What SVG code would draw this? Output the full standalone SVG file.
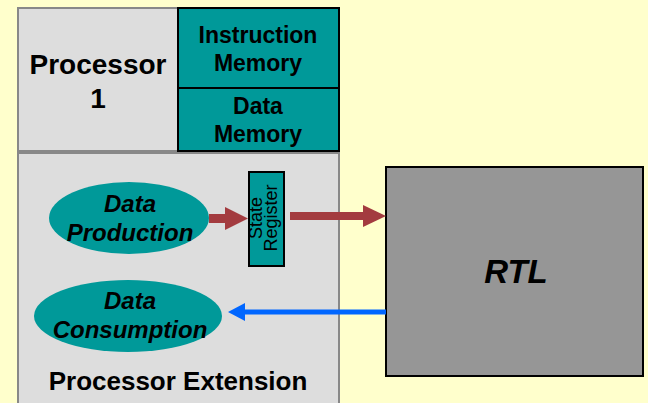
<svg xmlns="http://www.w3.org/2000/svg" width="648" height="403" viewBox="0 0 648 403">
<style>
.bg{fill:#FFFFCC}
.gray{fill:#DDDDDD;stroke:#888888;stroke-width:2}
.teal{fill:#009999;stroke:#000000;stroke-width:2}
.t{font-family:"Liberation Sans",Arial,sans-serif;font-weight:bold;fill:#000;text-anchor:middle}
.ti{font-style:italic}
.sr{font-family:"Liberation Sans",Arial,sans-serif;font-size:18px;fill:#000;text-anchor:middle}
.red{fill:#A33B3F}
</style>
<rect class="bg" x="0" y="0" width="648" height="403"/>
<g id="processor">
<rect class="gray" x="18" y="8" width="160" height="143"/>
<text class="t" x="98" y="74" font-size="28">Processor</text>
<text class="t" x="98" y="108" font-size="28">1</text>
</g>
<g id="instruction-memory">
<rect class="teal" x="178" y="8" width="161" height="80"/>
<text class="t" x="258" y="43" font-size="23">Instruction</text>
<text class="t" x="258" y="71" font-size="23">Memory</text>
</g>
<g id="data-memory">
<rect class="teal" x="178" y="88" width="161" height="63"/>
<text class="t" x="258" y="114" font-size="23">Data</text>
<text class="t" x="258" y="142" font-size="23">Memory</text>
</g>
<g id="processor-extension">
<rect class="gray" x="18" y="153" width="321" height="260"/>
<text class="t" x="178" y="390" font-size="26">Processor Extension</text>
</g>
<g id="data-production">
<ellipse cx="129" cy="218" rx="80" ry="36" fill="#009999"/>
<text class="t ti" x="130" y="212" font-size="24">Data</text>
<text class="t ti" x="130" y="241" font-size="24">Production</text>
</g>
<g id="data-consumption">
<ellipse cx="128" cy="316" rx="94" ry="36" fill="#009999"/>
<text class="t ti" x="130" y="309" font-size="24">Data</text>
<text class="t ti" x="130" y="338" font-size="24">Consumption</text>
</g>
<g id="rtl">
<rect x="386" y="167" width="257" height="209" fill="#969696" stroke="#000" stroke-width="2"/>
<text class="t ti" x="516" y="283" font-size="33">RTL</text>
</g>
<g id="connectors">
<rect class="red" x="209" y="214" width="18" height="9"/>
<polygon class="red" points="225,207 248,218.5 225,230"/>
<rect class="red" x="290" y="212" width="75" height="8"/>
<polygon class="red" points="363,205 386,216 363,227"/>
<rect x="243" y="309.5" width="143" height="5" fill="#0066FF"/>
<polygon points="228,312 245,303 245,321" fill="#0066FF"/>
</g>
<g id="state-register">
<rect class="teal" x="249" y="172" width="35" height="94"/>
<text class="sr" transform="translate(262,218) rotate(-90)">State</text>
<text class="sr" transform="translate(277,218) rotate(-90)">Register</text>
</g>
</svg>
